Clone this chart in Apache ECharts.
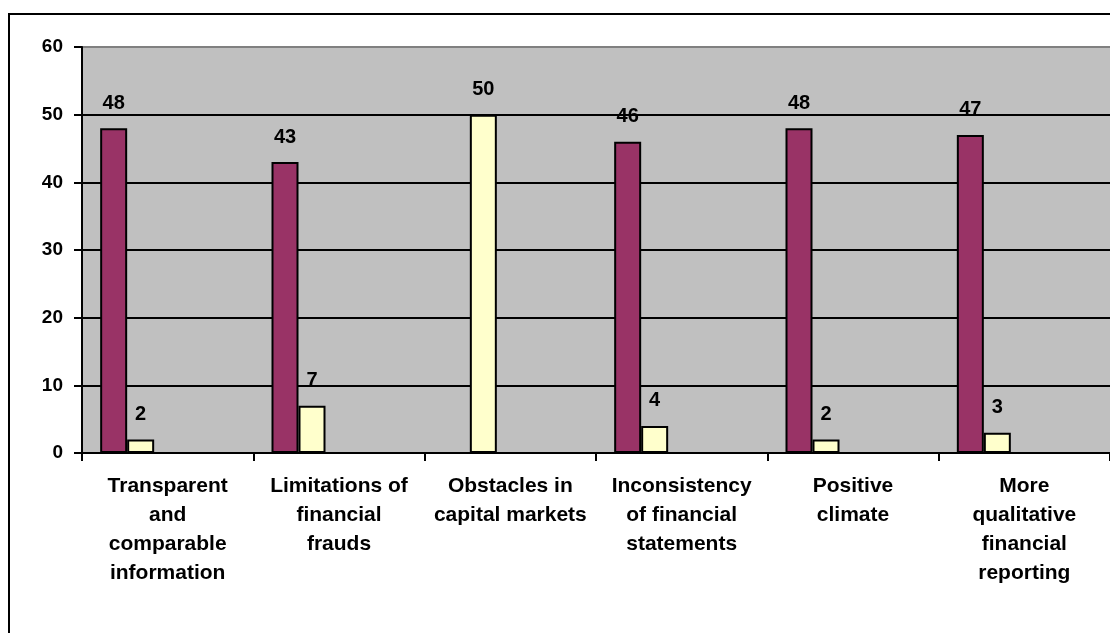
<!DOCTYPE html>
<html>
<head>
<meta charset="utf-8">
<script src="https://cdn.jsdelivr.net/npm/echarts@6/dist/echarts.min.js"></script>
<style>
  html, body { margin: 0; padding: 0; background: #fff; }
  #chart { width: 1110px; height: 633px; }
</style>
</head>
<body>
<div id="chart"></div>
<script>
// categories (x axis)
var categories = [
  'Transparent\nand\ncomparable\ninformation',
  'Limitations of\nfinancial\nfrauds',
  'Obstacles in\ncapital markets',
  'Inconsistency\nof financial\nstatements',
  'Positive\nclimate',
  'More\nqualitative\nfinancial\nreporting'
];
// series values
var firstValues = [48, 43, null, 46, 48, 47];
var secondValues = [2, 7, 50, 4, 2, 3];
// y ticks
var yMin = 0, yMax = 60, yStep = 10;

var font = 'Arial, "Liberation Sans", sans-serif';

var labelStyle = {
  show: true,
  position: 'top',
  distance: 15,
  color: '#000',
  fontWeight: 'bold',
  fontSize: 20,
  fontFamily: font
};

function barSeries(data, color) {
  return {
    type: 'bar',
    data: data,
    barWidth: 27,
    barGap: '0%',
    itemStyle: { color: color, borderColor: '#000', borderWidth: 2 },
    label: labelStyle,
    silent: true
  };
}

var myChart = echarts.init(document.getElementById('chart'));
myChart.setOption({
  animation: false,
  backgroundColor: '#fff',
  graphic: [{
    type: 'rect',
    shape: { x: 9, y: 14, width: 1300, height: 800 },
    style: { fill: 'none', stroke: '#000', lineWidth: 2 },
    z: 100
  }],
  grid: { left: 82, top: 47, bottom: 180, width: 1031, containLabel: false,
    show: true, backgroundColor: '#c0c0c0', borderWidth: 0 },
  xAxis: {
    type: 'category',
    data: categories,
    axisLine: { lineStyle: { color: '#000', width: 2 } },
    axisTick: { show: true, length: 8, lineStyle: { color: '#000', width: 2 } },
    axisLabel: {
      interval: 0,
      margin: 19,
      color: '#000',
      fontWeight: 'bold',
      fontSize: 21,
      lineHeight: 29,
      fontFamily: font,
      align: 'center'
    },
    splitLine: { show: false }
  },
  yAxis: {
    type: 'value',
    min: yMin,
    max: yMax,
    interval: yStep,
    axisLine: { show: true, lineStyle: { color: '#000', width: 2 } },
    axisTick: { show: true, length: 8, lineStyle: { color: '#000', width: 2 } },
    axisLabel: {
      margin: 19,
      color: '#000',
      fontWeight: 'bold',
      fontSize: 19,
      fontFamily: font
    },
    splitLine: {
      show: true,
      lineStyle: { color: ['#000', '#000', '#000', '#000', '#000', '#000', '#808080'], width: 2 }
    }
  },
  series: [
    barSeries(firstValues, '#993366'),
    barSeries(secondValues, '#ffffcc'),
    barSeries([], '#9999ff'),
    barSeries([], '#ccffff'),
    barSeries([], '#660066')
  ]
});
</script>
</body>
</html>
